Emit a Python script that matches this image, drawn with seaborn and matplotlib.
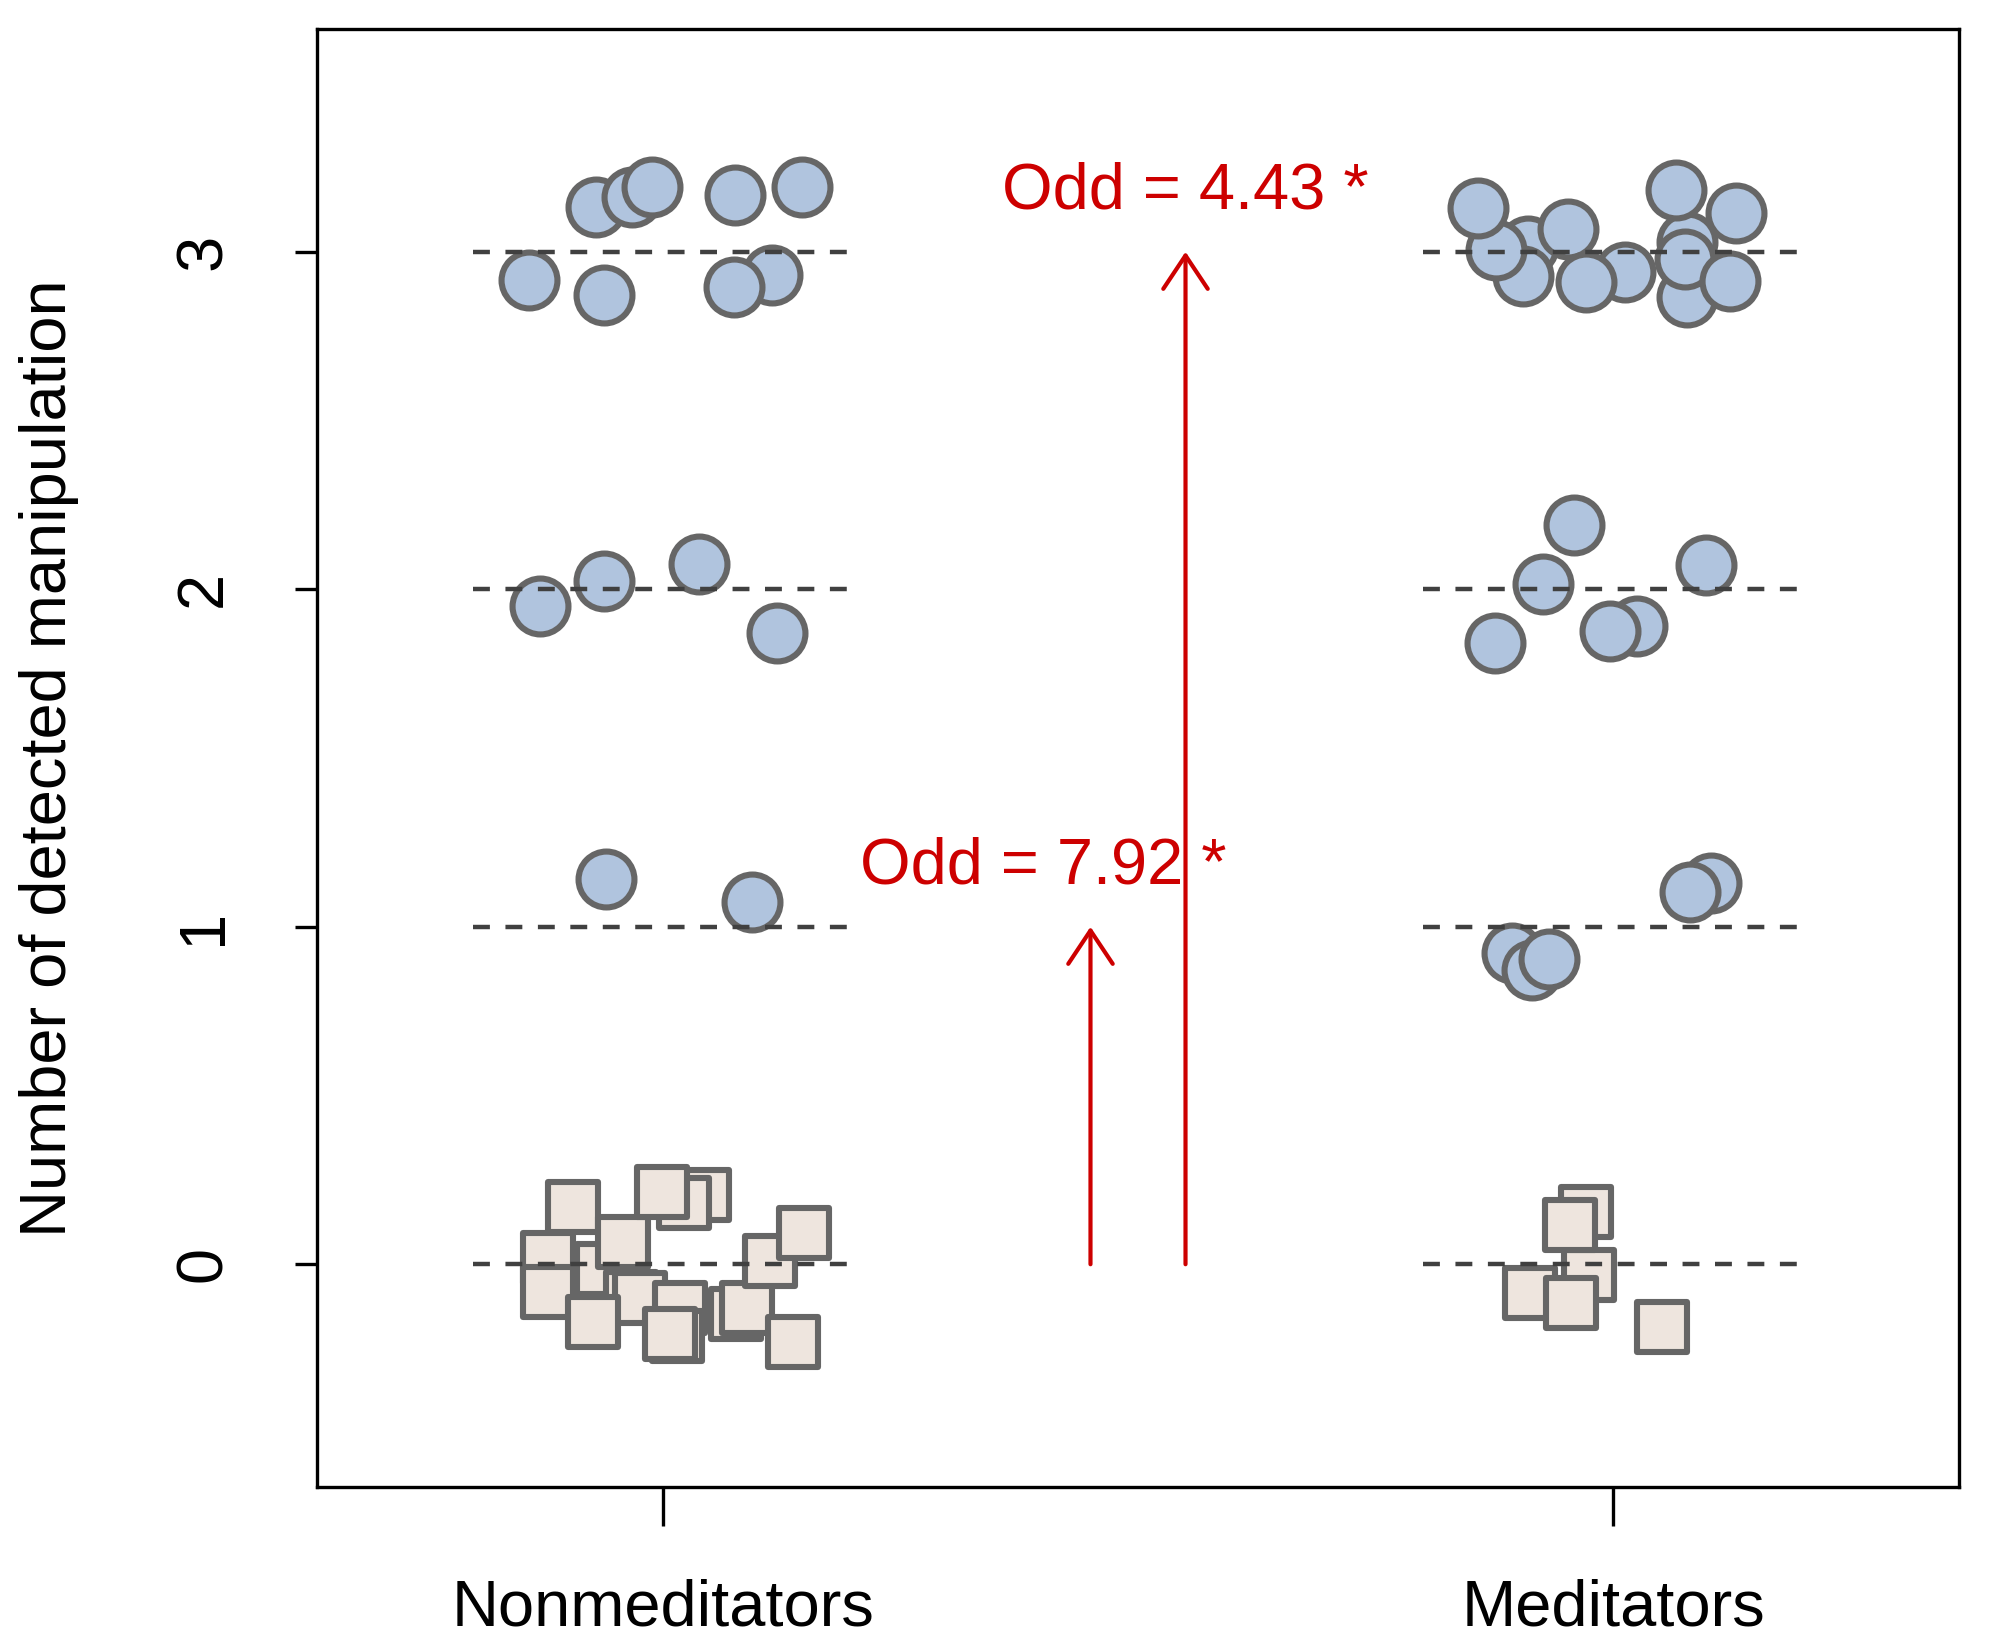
import matplotlib
matplotlib.use("Agg")
import matplotlib.pyplot as plt
import seaborn as sns
import pandas as pd
import numpy as np

# ---- data ----
groups = ["Nonmeditators", "Meditators"]
group_pos = [1, 2]
levels = [0, 1, 2, 3]

# jittered positions of each participant (x) and detected count (y, jittered)
non_det_x = [0.930, 0.967, 0.989, 1.076, 1.146, 0.859, 0.938, 1.115, 1.075,
             0.871, 0.938, 1.038, 1.120,
             0.940, 1.094]
non_det_y = [3.132, 3.162, 3.191, 3.169, 3.191, 2.915, 2.873, 2.930, 2.895,
             1.950, 2.023, 2.076, 1.871,
             1.141, 1.074]
non_zero_x = [0.879, 0.879, 0.905, 0.936, 0.958, 1.043, 1.022, 0.999,
              0.966, 0.976, 1.018, 1.015, 1.007, 0.926, 1.077, 1.089,
              1.113, 1.149, 1.137]
non_zero_y = [0.018, -0.081, 0.171, -0.014, 0.065, 0.205, 0.181, 0.213,
              -0.096, -0.101, -0.130, -0.213, -0.206, -0.172, -0.147, -0.130,
              0.010, 0.092, -0.229]

med_det_x = [1.910, 1.905, 2.078, 2.078, 2.013, 1.877, 1.858, 1.952, 1.971,
             2.066, 2.076, 2.129, 2.123,
             1.959, 1.926, 2.098, 1.876, 2.025, 1.997,
             2.103, 2.081, 1.894, 1.915, 1.932]
med_det_y = [3.017, 2.928, 3.028, 2.866, 2.941, 3.004, 3.130, 3.068, 2.910,
             3.184, 2.979, 3.115, 2.912,
             2.189, 2.015, 2.073, 1.842, 1.891, 1.875,
             1.130, 1.104, 0.921, 0.872, 0.903]
med_zero_x = [1.971, 1.975, 1.955, 1.913, 1.956, 2.051]
med_zero_y = [0.156, -0.032, 0.116, -0.086, -0.115, -0.185]

odds_labels = ["Odd = 7.92 *", "Odd = 4.43 *"]
arrow_x = [1.45, 1.55]
arrow_top = [1, 3]
label_xy = [(1.40, 1.18), (1.55, 3.18)]

# ---- style ----
sns.set_style("white")
plt.rcParams["font.family"] = ["Liberation Sans", "DejaVu Sans"]

RED = "#CD0000"
EDGE = "#666666"
CIRCLE = "#B0C4DE"
SQUARE = "#EEE5DE"

fig = plt.figure(figsize=(1991 / 200, 1646 / 200), dpi=200)
ax = fig.add_axes([317 / 1991, 1 - 1487 / 1646, (1959 - 317) / 1991, (1487 - 29) / 1646])

det = pd.DataFrame({"x": non_det_x + med_det_x, "y": non_det_y + med_det_y})
zero = pd.DataFrame({"x": non_zero_x + med_zero_x, "y": non_zero_y + med_zero_y})

sns.scatterplot(data=zero, x="x", y="y", marker="s", s=312, color=SQUARE,
                edgecolor=EDGE, linewidth=2.2, ax=ax, zorder=2)
sns.scatterplot(data=det, x="x", y="y", marker="o", s=405, color=CIRCLE,
                edgecolor=EDGE, linewidth=2.2, ax=ax, zorder=2)

for gp in group_pos:
    ax.hlines(levels, gp - 0.2, gp + 0.2, colors="#404040", linestyles=(0, (3.8, 3.5)),
              linewidth=1.6, zorder=3)

for ax_x, top, (tx, ty), lab in zip(arrow_x, arrow_top, label_xy, odds_labels):
    ax.annotate("", xy=(ax_x, top), xytext=(ax_x, 0),
                arrowprops=dict(arrowstyle="->,head_length=1.2,head_width=0.8",
                                color=RED, lw=1.5, shrinkA=0, shrinkB=0,
                                mutation_scale=10), zorder=4)
    ax.text(tx, ty, lab, color=RED, fontsize=23.4, ha="center", va="center", zorder=5)

ax.set_xlim(0.636, 2.364)
ax.set_ylim(-0.66, 3.66)
ax.set_xticks(group_pos)
ax.set_xticklabels(groups, fontsize=23.4, color="black")
ax.set_yticks(levels)
ax.set_yticklabels([str(v) for v in levels], fontsize=23.4, rotation=90, va="center",
                   color="black")
ax.set_xlabel("")
ax.set_ylabel("Number of detected manipulation", fontsize=23.4, color="black", va="center")
ax.yaxis.set_label_coords(-0.163, 0.5)

for sp in ax.spines.values():
    sp.set_color("black")
    sp.set_linewidth(1.2)
ax.tick_params(axis="y", which="major", direction="out", length=8, width=1.2, pad=22,
               color="black", left=True)
ax.tick_params(axis="x", which="major", direction="out", length=14, width=1.2, pad=19,
               color="black", bottom=True)

fig.savefig("out.png", dpi=200)
